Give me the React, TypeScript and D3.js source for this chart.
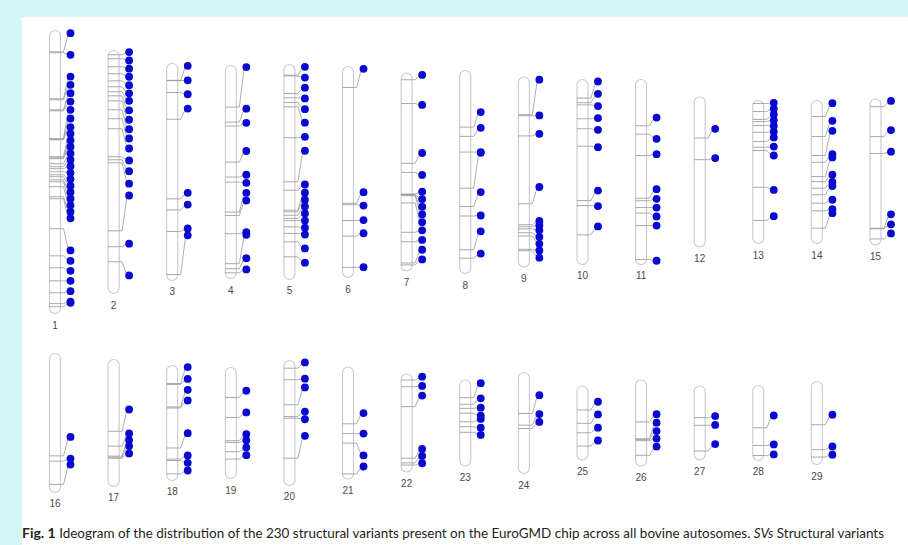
import { useEffect, useRef } from "react";
import * as d3 from "d3";

// bovine autosomes, lengths in Mb
const chromosomes = ["1", "2", "3", "4", "5", "6", "7", "8", "9", "10", "11", "12", "13", "14", "15",
  "16", "17", "18", "19", "20", "21", "22", "23", "24", "25", "26", "27", "28", "29"];
const lengthsMb = [158.5, 136.1, 121.5, 119.3, 120.4, 118.2, 110.9, 113.7, 106.4, 103.6, 103.6, 84, 80.1, 80.1, 81.8,
  77.8, 71.1, 64.4, 62.2, 70, 62.7, 54.9, 48.2, 56.6, 41.4, 48.2, 41.4, 42, 46.5];

// SV positions (Mb) per chromosome
const svMb: number[][] = [
  [11.9, 12.5, 38.2, 38.8, 44.4, 45, 60.6, 60.9, 61.2, 70.7, 71.3, 71.8, 74.6, 76.3, 77.4, 79.1, 80.8, 81.9, 83.6, 84.7, 87.5, 93.1, 94.2, 111, 126.2, 132.9, 140.2, 146.9, 153, 154.7],
  [2.4, 4.6, 9.1, 13, 17, 20.3, 23.1, 25.4, 28.2, 33.2, 38.2, 43.8, 59.5, 61.2, 62.9, 101, 109.9, 118.3],
  [9.4, 9.6, 16.2, 31.2, 75.8, 82, 94.1, 118.2],
  [23.3, 31.7, 33.9, 54.1, 62.5, 65.3, 82.1, 84, 94.2, 111, 113.8, 116.1],
  [6, 6.4, 16.2, 18.6, 21.3, 23.7, 41, 65.7, 70.4, 81.6, 82.5, 84.4, 86.2, 87.4, 90.9, 94.6, 99.3, 107.7],
  [11.8, 76.6, 77.4, 86.3, 95, 112.5],
  [3.8, 17.1, 50.6, 55.7, 67.8, 68.1, 68.3, 68.7, 72.8, 89.2, 94.5, 106.4, 107.5],
  [31.7, 36.9, 45.7, 65.9, 76.2, 81.5, 100.4, 105.1],
  [21.1, 21.7, 33, 71, 82.7, 83.8, 85, 87.2, 89, 96.5, 97.3],
  [10.4, 13, 14.2, 22, 27.6, 37.3, 67.8, 70.6, 87],
  [25.9, 30.6, 42.6, 66.5, 67.9, 71.7, 74.8, 81.8, 100.8],
  [23, 35.1],
  [1.7, 6.2, 10.6, 11.8, 14, 17.8, 23, 26.2, 28, 48.6, 67.2],
  [9, 20.2, 30.8, 34.6, 42.6, 45.4, 49.1, 52.8, 57.5, 61.8, 71.5],
  [4.3, 21.1, 30.5, 72.4, 72.7, 78.4],
  [57.3, 60.3, 73.3],
  [40.2, 48.5, 54.1, 54.7, 55.3],
  [10.1, 10.6, 23.2, 23.8, 46.2, 52.4, 53.2, 60.7],
  [16.8, 28, 41, 42, 47.2, 51.3],
  [4.3, 10.8, 24.8, 31.4, 32.3, 54.7],
  [31.8, 37.3, 42.6, 59.9],
  [3.4, 7.1, 18.3, 47.2, 49.8, 51],
  [9.9, 13.6, 15.9, 18.6, 23.4, 26.2, 29.3],
  [23, 29.5, 31.4],
  [13.4, 20.9, 26.2, 33.6],
  [23.5, 32.9, 33.4, 34, 42.2],
  [17.7, 22, 36.4],
  [23.7, 33.6, 39.2],
  [24.2, 38.2, 42.3],
];

// where each SV's marker sits along the chromosome after label spreading (Mb)
const markerMb: number[][] = [
  [1.5, 13.6, 25.8, 30.4, 35.1, 39.8, 44.4, 49.3, 54.1, 57.8, 61.5, 65.1, 68.8, 72.4, 76, 79.7, 83.3, 87, 90.6, 94.2, 97.9, 101.5, 105.2, 123.2, 129, 134.6, 140.2, 146, 151.8, 152.5],
  [0.9, 5.6, 10.2, 14.7, 19.4, 24, 28.2, 33.5, 38.8, 44.1, 49.3, 54.9, 61.6, 67.6, 74.6, 81.2, 108.2, 126],
  [1.3, 9.4, 17.2, 25.2, 72.4, 79, 92.4, 96.2],
  [0.9, 24.2, 32.1, 47.9, 61.2, 65.7, 71.3, 75.6, 93.3, 94.8, 107.9, 114.2],
  [1.3, 7.3, 13, 19, 25, 32.6, 40.5, 48.3, 67.2, 71.8, 75.7, 79.5, 83.4, 87.4, 91.4, 95.2, 103, 111],
  [1.3, 70.4, 77.9, 86, 93.4, 112.4],
  [1.1, 17.9, 44.8, 57.1, 66.5, 70.6, 74.9, 79.2, 83.6, 88.1, 93.5, 99, 104.4],
  [23.3, 32.1, 45.7, 46.1, 68.1, 81.2, 90.1, 102.6],
  [1.5, 21.5, 31.8, 61.6, 80.6, 83.1, 85.8, 89.6, 93.4, 97.1, 101.2],
  [1.1, 8, 14.9, 21.6, 28.2, 37.9, 62.2, 70.9, 82.3],
  [21.3, 33.2, 41.8, 61.4, 66.8, 71.7, 76.7, 81.8, 101.5],
  [17.8, 34.2],
  [1.3, 4.6, 7.8, 11, 14.3, 17.5, 20.7, 25.8, 30.8, 50.1, 64.8],
  [1.5, 11.4, 17, 30.1, 31.9, 41.6, 45.6, 47.9, 55.6, 60.8, 63.1],
  [1.1, 17.4, 29.5, 64.6, 70.2, 75.3],
  [46.7, 58.8, 62.2],
  [28, 41.4, 45.1, 48.5, 52.6],
  [0.9, 7.5, 13.6, 19.6, 37.9, 50.4, 54.5, 58.8],
  [13, 25.2, 37.3, 40.7, 44.8, 49.1],
  [1.1, 10.2, 15.1, 28.6, 32.9, 42.2],
  [25.8, 37.3, 49.5, 55.7],
  [1.5, 6.7, 12.1, 42, 45.9, 50],
  [1.8, 10.3, 15.5, 20, 21.8, 26.7, 30.8],
  [12.7, 23.3, 27.7],
  [8.8, 15.9, 23.3, 30.5],
  [19.2, 23.9, 28.6, 32.8, 37.3],
  [16.8, 21.8, 32.5],
  [16.8, 33, 38.6],
  [18.6, 36.4, 41],
];

const W = 908;
const H = 545;
const PER_ROW = 15;

export default function App() {
  const svgRef = useRef<SVGSVGElement | null>(null);

  useEffect(() => {
    if (!svgRef.current) return;
    const svg = d3.select(svgRef.current);
    svg.selectAll("*").remove();

    // page frame
    svg.append("rect").attr("width", W).attr("height", H).attr("fill", "#d4f4f8");
    svg.append("rect").attr("x", 22).attr("y", 17).attr("width", W - 22).attr("height", H - 17).attr("fill", "#ffffff");

    const barW = 11;
    const x = d3.scalePoint<number>().domain(d3.range(PER_ROW)).range([49.5, 870]);
    const yLen = d3.scaleLinear().domain([0, 158.5]).range([0, 283]);
    const rowCenter = [172, 423];

    const g = svg.append("g");

    chromosomes.forEach((name, i) => {
      const row = Math.floor(i / PER_ROW);
      const col = i % PER_ROW;
      const left = x(col)!;
      const right = left + barW;
      const h = yLen(lengthsMb[i]);
      const top = rowCenter[row] - h / 2;
      const cg = g.append("g");

      cg.append("rect")
        .attr("x", left)
        .attr("y", top)
        .attr("width", barW)
        .attr("height", h)
        .attr("rx", 5.5)
        .attr("fill", "#fff")
        .attr("stroke", "#c9c9c9")
        .attr("stroke-width", 1.1);

      const dotX = left + 21;
      const pairs = svMb[i].map((s, k) => ({ s: top + yLen(s), m: top + yLen(markerMb[i][k]) }));

      // SV ticks across the chromosome
      cg.selectAll("line.sv")
        .data(pairs)
        .enter()
        .append("line")
        .attr("x1", left)
        .attr("x2", right)
        .attr("y1", (d) => d.s)
        .attr("y2", (d) => d.s)
        .attr("stroke", "#939393")
        .attr("stroke-width", 0.8);

      // connectors to markers
      cg.selectAll("path.link")
        .data(pairs)
        .enter()
        .append("path")
        .attr("d", (d) => `M${right},${d.s}L${right + 3},${d.s}L${dotX - 2},${d.m}`)
        .attr("fill", "none")
        .attr("stroke", "#9a9a9a")
        .attr("stroke-width", 0.8);

      cg.selectAll("circle")
        .data(pairs)
        .enter()
        .append("circle")
        .attr("cx", dotX)
        .attr("cy", (d) => d.m)
        .attr("r", 3.9)
        .attr("fill", "#0808d0");

      cg.append("text")
        .attr("x", left + barW / 2)
        .attr("y", top + h + 15)
        .attr("text-anchor", "middle")
        .attr("font-family", "Liberation Sans, Arial, sans-serif")
        .attr("font-size", 10)
        .attr("fill", "#4a4a4a")
        .text(name);
    });

    // caption
    const cap = svg.append("text")
      .attr("x", 22)
      .attr("y", 538)
      .attr("font-family", "Lato, 'Open Sans', sans-serif")
      .attr("font-size", 12.5)
      .attr("fill", "#231f20")
      .attr("textLength", 862)
      .attr("lengthAdjust", "spacingAndGlyphs");
    cap.append("tspan").attr("font-weight", "bold").attr("font-size", 13).text("Fig. 1");
    cap.append("tspan").text("  Ideogram of the distribution of the 230 structural variants present on the EuroGMD chip across all bovine autosomes. ");
    cap.append("tspan").attr("font-style", "italic").text("SVs");
    cap.append("tspan").text(" Structural variants");
  }, []);

  return (
    <div style={{ position: "absolute", left: 0, top: 0, width: W, height: H }}>
      <svg ref={svgRef} width={W} height={H} style={{ display: "block" }} />
    </div>
  );
}
